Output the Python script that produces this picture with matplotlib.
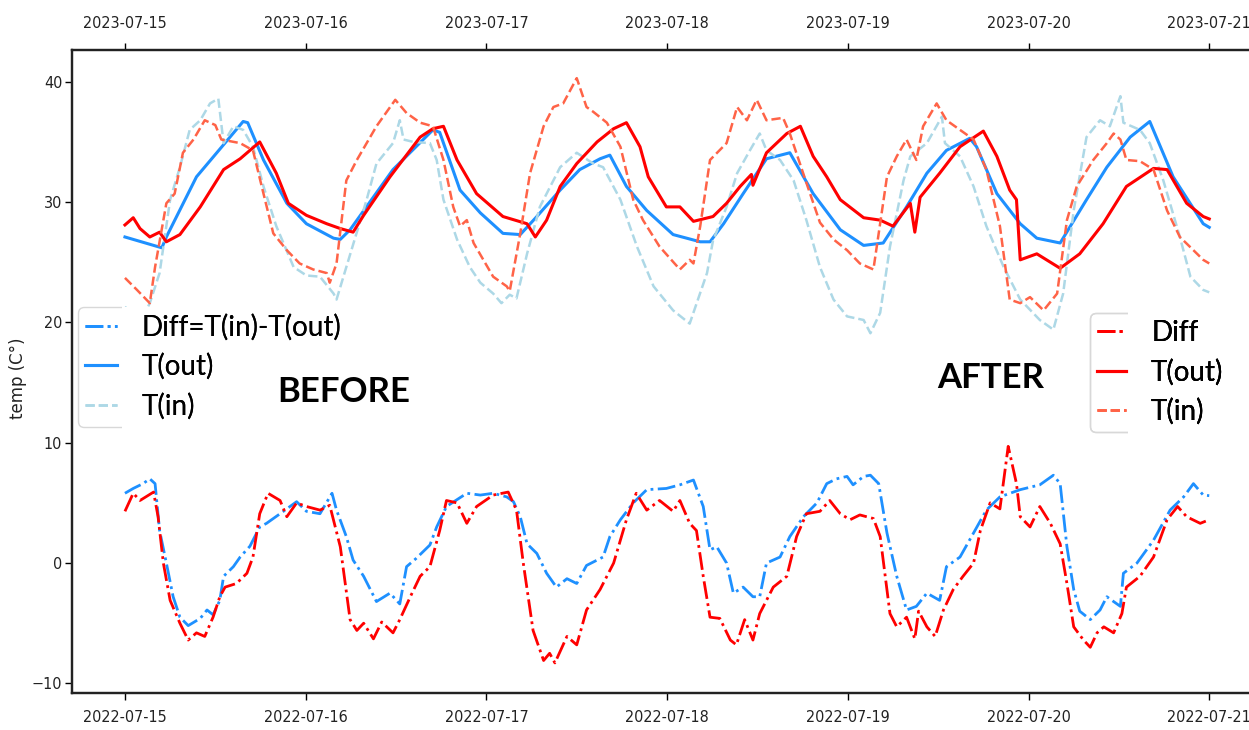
import pandas as pd
import matplotlib
matplotlib.use("Agg")
import matplotlib.pyplot as plt
import matplotlib.dates as mdates
from matplotlib.font_manager import FontProperties
from matplotlib.transforms import Bbox, TransformedBbox

# =========================================================
# Temperatura interior / exterior, antes (2022) y después (2023)
# =========================================================

# ---------------- ANTES (2022) ----------------
b_out_h = [0, 4.9, 5.5, 9.5, 15.7, 16.3, 18.4, 21.5, 24.1, 27.7, 28.6, 29.9, 35.6, 40.9,
           41.8, 44.5, 47.2, 50.2, 52.5, 54.7, 57.8, 60.4, 63.1, 64.4, 66.6, 69.3, 72.8,
           76.4, 77.7, 79.5, 82.1, 85.2, 88.3, 91.4, 95.0, 98.1, 100.7, 103.8, 106.5,
           109.1, 112.2, 113.1, 115.8, 118.9, 121.1, 124.2, 127.7, 130.4, 133.5, 136.1,
           139.2, 143.2, 144.0]
b_out_v = [27.1, 26.2, 27.1, 32.1, 36.7, 36.6, 33.5, 29.9, 28.2, 27.0, 26.9, 27.7, 32.7, 36.0,
           35.8, 31.0, 29.1, 27.4, 27.3, 28.8, 31.0, 32.7, 33.6, 33.9, 31.3, 29.3, 27.3,
           26.7, 26.7, 28.2, 30.7, 33.6, 34.1, 30.7, 27.7, 26.4, 26.6, 29.6, 32.4,
           34.3, 35.3, 34.6, 30.7, 28.2, 27.0, 26.6, 30.2, 32.9, 35.4, 36.7,
           32.1, 28.2, 27.9]

b_in_h = [0, 2.0, 3.3, 4.6, 6.0, 7.3, 8.6, 10.0, 11.3, 12.4, 13.1, 14.4, 15.7, 17.0, 18.4,
          20.1, 22.4, 24.1, 25.9, 27.7, 28.1, 29.4, 32.1, 33.4, 35.6, 36.5, 37.0, 38.3,
          40.5, 41.4, 42.3, 44.1, 45.8, 47.2, 48.9, 50.0, 51.1, 52.0, 53.4, 55.1, 57.8,
          60.0, 62.2, 63.5, 65.8, 68.0, 70.2, 72.8, 75.0, 77.3, 78.1, 79.9, 81.3, 83.0,
          84.3, 85.2, 87.0, 88.8, 90.5, 92.3, 94.1, 95.9, 98.1, 99.0, 100.3, 101.6,
          103.4, 104.3, 106.5, 108.5, 108.9, 110.9, 112.7, 114.4, 116.7, 118.9, 121.5,
          123.3, 124.6, 126.0, 127.7, 129.5, 130.8, 132.2, 132.6, 134.8, 136.1, 137.9,
          140.1, 141.5, 143.2, 144.0]
b_in_v = [21.3, 20.0, 21.6, 24.1, 30.2, 32.9, 36.0, 36.8, 38.2, 38.6, 34.9, 36.3, 36.0, 34.6, 31.3,
          28.0, 24.6, 23.9, 23.8, 22.4, 21.9, 24.6, 30.2, 33.2, 34.9, 36.8, 35.2, 35.0,
          34.9, 33.5, 30.2, 26.9, 24.6, 23.3, 22.4, 21.6, 22.3, 22.0, 25.7, 29.6, 32.9,
          34.1, 33.2, 32.9, 30.2, 26.3, 23.0, 21.0, 19.9, 24.1, 26.8, 29.6, 32.4, 34.3,
          35.7, 34.3, 33.5, 31.8, 28.5, 24.6, 21.9, 20.5, 20.2, 19.1, 20.8, 26.3,
          31.8, 33.8, 34.9, 37.1, 34.9, 33.8, 31.3, 28.0, 24.6, 21.9, 20.2,
          19.4, 22.4, 29.3, 35.4, 36.8, 36.3, 38.8, 36.6, 36.0, 34.9, 31.8,
          27.1, 23.8, 22.7, 22.5]

b_diff_h = [0, 1.1, 2.4, 3.3, 4.0, 4.6, 5.5, 6.4, 7.3, 8.4, 10.0, 10.9, 11.7, 12.6, 13.1,
            14.4, 15.3, 16.6, 17.9, 18.8, 20.6, 22.8, 24.1, 25.9, 27.5, 28.1, 29.4, 30.3,
            31.7, 33.4, 35.2, 36.5, 37.4, 38.7, 40.5, 41.4, 42.7, 45.4, 47.2, 48.9, 50.7,
            51.6, 52.5, 53.4, 54.7, 56.0, 57.3, 58.7, 60.0, 61.3, 63.5, 64.4, 65.8, 67.5,
            69.3, 71.9, 73.7, 75.5, 76.8, 77.7, 78.6, 79.9, 80.8, 82.1, 83.4, 84.3, 85.2,
            87.0, 88.3, 90.1, 91.9, 93.2, 94.5, 95.9, 96.7, 98.1, 99.0, 100.1, 101.2,
            102.5, 103.8, 105.1, 106.5, 108.2, 109.1, 110.9, 112.7, 114.4, 116.2, 118.9,
            121.5, 123.3, 124.2, 125.1, 126.0, 126.8, 128.2, 129.5, 130.4, 132.2, 132.6,
            134.4, 136.6, 138.8, 140.6, 141.9, 143.2, 144.0]
b_diff_v = [5.8, 6.2, 6.6, 7.0, 6.6, 2.7, 0.0, -2.8, -4.5, -5.2, -4.6, -3.9, -4.3, -3.1, -1.1,
            -0.3, 0.5, 1.4, 3.0, 3.3, 4.1, 5.1, 4.3, 4.1, 5.8, 4.4, 2.2, 0.25,
            -1.1, -3.2, -2.5, -3.4, -0.3, 0.4, 1.5, 3.0, 4.7, 5.8, 5.65, 5.8, 5.5,
            5.1, 3.85, 1.6, 0.8, -0.85, -2.0, -1.3, -1.7, -0.2, 0.5, 2.2, 3.6, 5.0,
            6.1, 6.2, 6.5, 6.9, 4.7, 1.1, 1.35, 0.0, -2.5, -2.0, -2.8, -2.8, 0.0,
            0.5, 2.2, 3.85, 5.0, 6.6, 7.0, 7.2, 6.5, 7.2, 7.3, 6.6, 2.5,
            -1.1, -3.9, -3.6, -2.5, -3.1, -0.3, 0.5, 2.5, 4.4, 5.5, 6.1,
            6.5, 7.3, 6.6, 1.35, -2.2, -4.0, -4.7, -3.9, -2.8, -3.6, -0.85,
            0.0, 1.9, 4.4, 5.5, 6.6, 5.65, 5.6]

# ---------------- DESPUÉS (2023) ----------------
a_out_h = [0, 1.1, 2.0, 3.3, 4.6, 5.5, 7.3, 10.0, 13.1, 15.3, 17.9, 20.1, 21.7, 24.1, 26.8,
           28.6, 30.3, 31.7, 35.2, 39.2, 40.9, 42.3, 44.1, 46.7, 50.2, 53.4, 54.5, 56.0,
           57.8, 60.0, 62.7, 64.9, 66.6, 68.4, 69.5, 71.9, 73.7, 75.5, 78.1, 79.9, 81.7,
           83.2, 83.4, 85.2, 87.9, 89.7, 91.4, 93.2, 95.0, 98.1, 100.3, 102.0, 104.3,
           104.9, 105.6, 108.2, 110.9, 114.0, 115.8, 117.5, 118.4, 118.9, 121.1, 124.2,
           126.8, 129.9, 133.0, 136.6, 138.4, 141.0, 143.2, 144.0]
a_out_v = [28.1, 28.7, 27.8, 27.1, 27.5, 26.7, 27.3, 29.6, 32.7, 33.6, 35.0, 32.4, 29.9, 28.9, 28.2,
           27.8, 27.5, 28.9, 32.1, 35.4, 36.1, 36.3, 33.5, 30.7, 28.8, 28.2, 27.1, 28.5,
           31.3, 33.2, 35.0, 36.1, 36.6, 34.6, 32.1, 29.6, 29.6, 28.4, 28.8, 29.9, 31.3,
           32.3, 31.4, 34.1, 35.7, 36.3, 33.8, 32.1, 30.2, 28.7, 28.5, 28.0, 29.9,
           27.5, 30.4, 32.4, 34.6, 35.9, 33.8, 31.0, 30.2, 25.2, 25.7, 24.5,
           25.7, 28.2, 31.3, 32.8, 32.7, 29.9, 28.8, 28.6]

a_in_h = [0, 1.6, 3.3, 4.0, 5.5, 6.6, 7.7, 9.1, 10.6, 12.0, 12.8, 15.3, 17.0, 18.4, 19.7,
          21.5, 23.2, 25.0, 26.8, 27.2, 28.1, 29.4, 30.8, 32.1, 33.4, 35.9, 37.4, 39.2,
          40.9, 42.3, 43.6, 44.5, 45.4, 46.3, 47.6, 48.9, 50.7, 51.1, 52.5, 53.8, 55.6,
          56.9, 58.2, 60.0, 61.3, 62.2, 64.0, 65.8, 67.5, 68.8, 71.0, 73.7, 75.0, 75.5,
          76.4, 77.7, 79.9, 81.3, 82.6, 83.9, 85.2, 87.4, 88.3, 90.5, 92.3, 94.1, 95.9,
          97.6, 99.4, 101.2, 102.5, 103.8, 105.1, 106.0, 107.8, 109.1, 110.9, 112.7,
          114.4, 116.2, 117.5, 118.9, 120.2, 122.0, 123.8, 125.1, 126.4, 128.6, 130.4,
          131.3, 132.2, 133.0, 134.8, 136.6, 138.4, 140.1, 141.9, 143.2, 144.0]
a_in_v = [23.7, 22.7, 21.6, 24.6, 29.9, 30.7, 34.1, 35.2, 36.8, 36.4, 35.2, 34.9, 34.3, 30.7, 27.4,
          26.0, 24.9, 24.4, 24.1, 23.3, 24.9, 31.8, 33.5, 34.9, 36.3, 38.5, 37.4, 36.6,
          36.3, 33.5, 29.6, 28.0, 28.5, 26.6, 25.2, 23.8, 23.0, 22.6, 27.4, 32.4, 36.3,
          37.9, 38.2, 40.3, 37.9, 37.5, 36.6, 34.6, 30.2, 28.5, 26.3, 24.4, 25.2, 24.9,
          28.0, 33.5, 34.9, 37.9, 36.8, 38.5, 36.8, 37.0, 35.7, 31.6, 28.3, 26.9, 26.0,
          24.9, 24.4, 32.1, 33.8, 35.2, 33.5, 36.3, 38.2, 36.8, 36.0, 35.2,
          32.7, 28.0, 21.9, 21.6, 22.1, 21.0, 22.4, 28.5, 31.3, 33.5, 34.9,
          35.7, 35.2, 33.5, 33.4, 32.7, 29.3, 27.1, 26.0, 25.2, 24.9]

a_diff_h = [0, 1.1, 2.0, 3.8, 4.4, 5.1, 6.0, 7.3, 8.4, 9.5, 10.6, 11.7, 12.6, 13.3, 14.8,
            16.2, 17.0, 17.9, 19.0, 20.6, 21.5, 22.8, 24.1, 25.9, 27.2, 28.6, 29.9, 30.8,
            31.7, 33.0, 34.1, 35.6, 36.5, 37.9, 39.2, 40.5, 41.8, 42.7, 44.1, 45.4, 46.7,
            48.9, 50.9, 52.0, 52.9, 54.2, 55.6, 56.4, 57.1, 58.7, 60.0, 61.3, 63.1, 64.9,
            66.6, 67.9, 69.3, 71.0, 72.8, 73.7, 75.0, 75.9, 76.8, 77.7, 79.0, 80.4, 81.2,
            82.3, 83.4, 84.3, 86.1, 87.9, 89.2, 90.5, 92.3, 93.6, 95.0, 96.3, 97.6, 99.4,
            100.3, 101.6, 102.5, 103.8, 104.9, 105.4, 106.5, 107.6, 108.7, 110.0, 111.3,
            112.7, 113.6, 114.9, 116.2, 117.3, 118.4, 118.9, 120.2, 121.5, 122.9, 124.2,
            125.1, 126.0, 127.3, 128.2, 129.1, 130.0, 131.3, 132.4, 133.0, 134.8, 136.6,
            138.4, 139.8, 141.0, 142.8, 144.0]
a_diff_v = [4.3, 5.8, 5.2, 5.9, 3.85, 0.0, -3.1, -5.0, -6.4, -5.8, -6.1, -4.5, -2.8, -2.0, -1.7,
            -0.85, 0.5, 4.1, 5.8, 5.2, 3.85, 5.0, 4.7, 4.4, 4.8, 1.35, -4.7, -5.6,
            -5.0, -6.3, -4.9, -5.8, -4.7, -2.8, -1.1, -0.3, 2.7, 5.2, 5.0, 3.3, 4.7,
            5.65, 5.9, 4.4, 0.0, -5.6, -8.1, -7.5, -8.3, -6.1, -6.8, -3.9, -2.2, 0.0,
            3.6, 5.8, 4.4, 5.2, 4.3, 5.2, 3.3, 2.7, -1.1, -4.5, -4.6, -6.4, -6.8,
            -4.7, -6.4, -4.2, -2.0, -1.1, 2.2, 4.1, 4.3, 5.2, 4.1, 3.6, 4.0, 3.7,
            2.2, -4.2, -5.3, -4.5, -6.3, -4.0, -5.3, -6.1, -3.9, -2.2, -1.1,
            0.0, 2.7, 5.0, 4.5, 9.7, 6.6, 3.85, 3.0, 4.7, 3.3, 1.6,
            -1.7, -5.3, -6.4, -7.0, -5.8, -5.3, -5.8, -4.2, -2.0, -1.1, 0.5,
            3.6, 4.7, 3.85, 3.3, 3.6]

inicio_2022 = pd.Timestamp("2022-07-15")
inicio_2023 = pd.Timestamp("2023-07-15")


def fechas(inicio, horas):
    return inicio + pd.to_timedelta(horas, unit="h")


tick_font = FontProperties(family="DejaVu Sans", stretch="condensed", size=11.5)

fig = plt.figure(figsize=(12.49, 7.30), dpi=100)
ax = fig.add_axes([72 / 1249, 37 / 730, 1177 / 1249, 643 / 730])
ax2 = ax.twiny()

# --- ANTES: eje inferior
l1, = ax.plot(fechas(inicio_2022, b_diff_h), b_diff_v, color="dodgerblue", ls="-.", lw=2.0)
l2, = ax.plot(fechas(inicio_2022, b_out_h), b_out_v, color="dodgerblue", ls="-", lw=2.2)
l3, = ax.plot(fechas(inicio_2022, b_in_h), b_in_v, color="lightblue", ls="--", lw=1.8)

# --- DESPUÉS: eje superior
r1, = ax2.plot(fechas(inicio_2023, a_diff_h), a_diff_v, color="red", ls="-.", lw=2.0)
r2, = ax2.plot(fechas(inicio_2023, a_out_h), a_out_v, color="red", ls="-", lw=2.2)
r3, = ax2.plot(fechas(inicio_2023, a_in_h), a_in_v, color="tomato", ls="--", lw=1.8)

ax.set_xlim(inicio_2022 - pd.Timedelta(days=0.293), inicio_2022 + pd.Timedelta(days=6.22))
ax2.set_xlim(inicio_2023 - pd.Timedelta(days=0.293), inicio_2023 + pd.Timedelta(days=6.22))
ax.set_ylim(-10.8, 42.64)
ax.set_yticks([-10, 0, 10, 20, 30, 40])

for a in (ax, ax2):
    a.xaxis.set_major_locator(mdates.DayLocator())
    a.xaxis.set_major_formatter(mdates.DateFormatter("%Y-%m-%d"))
    a.spines["right"].set_visible(False)
    for s in a.spines.values():
        s.set_linewidth(1.6)
        s.set_color("#222222")

ax.tick_params(axis="x", length=5, width=1, pad=7)
ax2.tick_params(axis="x", length=5, width=1, pad=9)
ax.tick_params(axis="y", length=5, width=1, pad=2)
fig.canvas.draw()
for lab in ax.get_xticklabels() + ax2.get_xticklabels() + ax.get_yticklabels():
    lab.set_fontproperties(tick_font)
    lab.set_color("#222222")

ax.set_ylabel("temp (C°)", fontsize=12, color="#222222")
ax.yaxis.set_label_coords(-0.038, 0.49)

# --- leyendas: fondo blanco completo, borde visible sólo junto a los símbolos
leg_font = FontProperties(family="Lato", size=20)


def leyenda(handles, labels, x0, y0, hl, corte, borde):
    leg = ax2.legend(handles, labels, loc="upper left",
                     bbox_to_anchor=(x0 / 1249, 1 - y0 / 730),
                     bbox_transform=fig.transFigure, borderaxespad=0, prop=leg_font,
                     handlelength=hl, handletextpad=0.9, labelspacing=0.45,
                     borderpad=0.25, framealpha=1, fancybox=True,
                     facecolor="white" if not borde else "none",
                     edgecolor="#d8d8d8" if borde else "none")
    if borde:
        leg.get_frame().set_clip_box(
            TransformedBbox(Bbox([[0, 0], [corte / 1249, 1]]), fig.transFigure))
    ax2.add_artist(leg)
    return leg


for borde in (False, True):
    leyenda([l1, l2, l3], ["Diff=T(in)-T(out)", "T(out)", "T(in)"], 78, 307, 1.15, 122, borde)
    leyenda([r1, r2, r3], ["Diff", "T(out)", "T(in)"], 1090, 313, 1.05, 1128, borde)

fig.text(277 / 1249, 1 - 392 / 730, "BEFORE", family="Lato", weight="bold",
         fontsize=25, ha="left", va="center")
fig.text(937 / 1249, 1 - 378 / 730, "AFTER", family="Lato", weight="bold",
         fontsize=25, ha="left", va="center")

plt.savefig("out.png", dpi=100)
plt.close()
